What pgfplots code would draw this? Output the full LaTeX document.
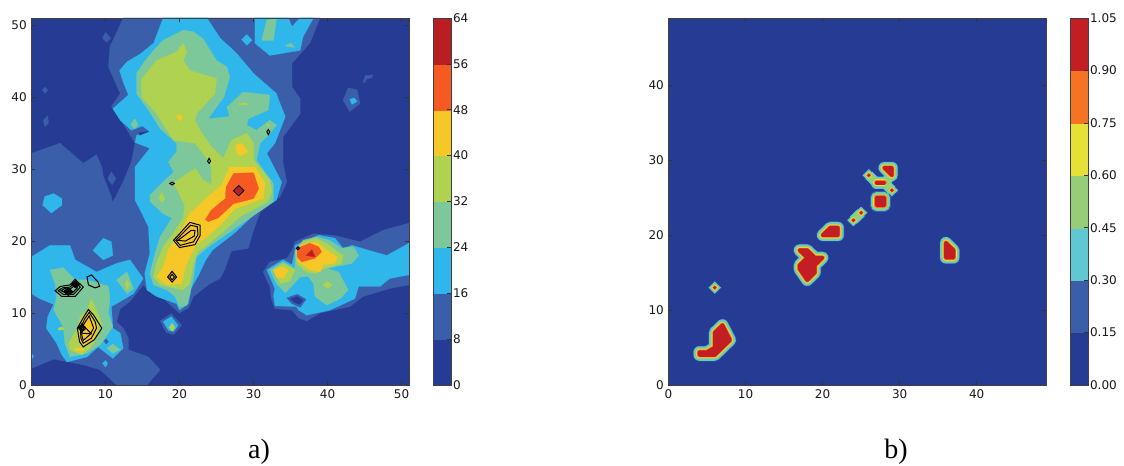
\documentclass[border=0pt]{standalone}
\usepackage{fontspec}
\setmainfont{DejaVu Sans}
\newfontfamily\capfont{Liberation Serif}
\usepackage{pgfplots}
\pgfplotsset{compat=1.18}
\definecolor{a0}{RGB}{38,60,148}
\definecolor{a1}{RGB}{58,94,170}
\definecolor{a2}{RGB}{47,182,235}
\definecolor{a3}{RGB}{125,200,155}
\definecolor{a4}{RGB}{175,210,80}
\definecolor{a5}{RGB}{245,200,40}
\definecolor{a6}{RGB}{245,90,35}
\definecolor{a7}{RGB}{185,30,35}
\definecolor{b2}{RGB}{95,200,210}
\definecolor{b3}{RGB}{150,205,120}
\definecolor{b4}{RGB}{230,225,55}
\definecolor{b5}{RGB}{245,115,35}
\definecolor{b6}{RGB}{195,30,35}
\pgfplotsset{
  base/.style={scale only axis,axis on top,tick align=inside,
    major tick length=3pt,
    /pgf/number format/assume math mode=true,
    tick label style={font=\fontsize{9}{10}\selectfont,text=black!90},
    axis line style={black!75,line width=0.6pt},
    every tick/.style={black!80,line width=0.5pt},
    anchor=south west},
  cb/.style={base,xtick=\empty,ytick pos=right,yticklabel pos=right,xmin=0,xmax=1,
    width=13.5pt,height=275.25pt,
    yticklabel style={xshift=-2pt}},
  f/.style={fill=#1,draw=#1,line width=0.2pt,forget plot},
  k/.style={draw=black,line width=0.75pt,fill=none,forget plot},
  r1/.style={draw=a1,line join=round,line width=9.4pt,fill=a1,forget plot},
  r2/.style={draw=b2,line join=round,line width=8.6pt,fill=b2,forget plot},
  r3/.style={draw=b3,line join=round,line width=6.6pt,fill=b3,forget plot},
  r4/.style={draw=b4,line join=round,line width=4.8pt,fill=b4,forget plot},
  r5/.style={draw=b5,line join=round,line width=3.6pt,fill=b5,forget plot},
  r6/.style={draw=b6,line join=round,line width=2.6pt,fill=b6,forget plot},
  d1/.style={draw=a1,line join=miter,line width=6.2pt,fill=a1,forget plot},
  d2/.style={draw=b2,line join=miter,line width=5.6pt,fill=b2,forget plot},
  d3/.style={draw=b3,line join=miter,line width=4.2pt,fill=b3,forget plot},
  d4/.style={draw=b4,line join=miter,line width=2.8pt,fill=b4,forget plot},
  d5/.style={draw=b5,line join=miter,line width=1.9pt,fill=b5,forget plot},
  d6/.style={draw=b6,line join=miter,line width=1.1pt,fill=b6,forget plot},
}
% panel b: grid cells holding the value 1
\newcommand\shapeA{(4,4)(6,4)(8,6)(7,8)(6,7)(6,5)(5,4.4)(4,4.4)}
\newcommand\shapeB{(17,18)(18,18)(19,17)(20,17)(19,16)(19,15)(18,14)(17,15.5)(17,16)(18,17)}
\newcommand\shapeC{(20,20)(21,21)(22,21)(22,20)}
\newcommand\shapeD{(28,29)(29,29)(29,28)}
\newcommand\shapeE{(27,27)(28,27)(28,27.05)(27,27.05)}
\newcommand\shapeF{(27,25)(28,25)(28,24)(27,24)}
\newcommand\shapeG{(36,19)(37,18)(37,17)(36,17)}
\newcommand\dotA{(6,13.1)(6.1,13)(6,12.9)(5.9,13)}
\newcommand\dotB{(26,28.1)(26.1,28)(26,27.9)(25.9,28)}
\newcommand\dotC{(29,26.1)(29.1,26)(29,25.9)(28.9,26)}
\newcommand\dotD{(24,22.1)(24.1,22)(24,21.9)(23.9,22)}
\newcommand\dotE{(25,23.1)(25.1,23)(25,22.9)(24.9,23)}
\begin{document}
\begin{tikzpicture}[x=1pt,y=1pt]
\path[use as bounding box] (0,0) rectangle (843,349.5);
%% ---------- panel a
\begin{axis}[base,at={(23.6pt,60.75pt)},width=283.1pt,height=275.25pt,
  xmin=0,xmax=51,ymin=0,ymax=51,xtick={0,10,...,50},ytick={0,10,...,50},
  axis background/.style={fill=a0}]
% level 8
\addplot[f=a1] coordinates {(0,32.2)(3.85,33.6)(7,30.8)(8.8,32)(9.5,30.3)(9.7,29)(10.8,26.2)(10.9,25.4)(11.3,26)(12.5,28.5)(13.5,31)(14,33.6)(12.4,36.3)(10.8,38.7)(12,40.5)(10.4,44.2)(10.6,47)(12.4,51)(39,51)(37.6,47.5)(35.2,44.7)(35.2,41.4)(36.3,39.8)(36.3,37.7)(34,34.5)(34,30.8)(34.5,28.2)(33.6,26.2)(30.9,24)(30,21.5)(29.3,19)(27,18.6)(26.1,16)(25.5,14.8)(24,14)(21.9,12.3)(21.2,10.7)(20,10)(19.2,10.7)(17.4,12.5)(15.8,13.2)(15.1,13.9)(13.3,11.6)(12,10.6)(11.5,8.8)(12.4,7.9)(13.1,6.5)(13.1,4.9)(15.8,3.9)(17.4,2.1)(15.6,0)(11.5,0)(9.3,2.1)(7,2.8)(3,3.6)(0,2.3)} -- cycle;
\addplot[f=a1] coordinates {(35.2,18.7)(35.6,19.9)(38.1,21)(40.8,20.8)(44.4,19.9)(47.5,21.5)(51,22.5)(51,13.9)(48.4,13.4)(44.8,12.3)(43,10.9)(39,10)(37.2,8.9)(36.1,9.3)(35.2,10.4)(32.9,10.6)(32.4,12)(32.2,13.7)(31.3,15.7)(32.2,17.1)(34.5,17.6)} -- cycle;
\addplot[f=a1] coordinates {(10,49)(10.7,48.2)(10.2,47.6)(9.6,48.2)} -- cycle;
\addplot[f=a1] coordinates {(1.8,41.4)(2.2,41)(1.8,40.5)(1.5,41)} -- cycle;
\addplot[f=a1] coordinates {(2.2,37.4)(2.3,36.4)(1.8,35.9)(1.6,36.8)} -- cycle;
\addplot[f=a1] coordinates {(10.8,29.6)(11.4,28.7)(10.9,27.8)(10.3,28.7)} -- cycle;
\addplot[f=a1] coordinates {(42.1,39.6)(42.8,41.3)(44,41)(44.4,39.1)(43,38)} -- cycle;
\addplot[f=a1] coordinates {(44.8,42.1)(45.1,43)(46.1,43.1)(46,42.7)(45.3,42.5)(45,42)} -- cycle;
\addplot[f=a1] coordinates {(17.4,8.9)(18.9,9.9)(20.3,8.3)(19.2,7)(18.2,7.3)} -- cycle;
% level 16
\addplot[f=a2] coordinates {(17.8,51)(16.5,47.5)(14.7,46)(12.9,44.9)(11.9,43.7)(12.4,42.1)(13.1,40.3)(11,38.4)(12,36.8)(13.5,35.4)(15,36)(16,35.2)(14.2,34.7)(14,33.7)(16,32.9)(14,30.3)(14,25.7)(14.7,24.3)(15.8,22)(16,18.3)(15.3,15.5)(15.6,13.2)(16.9,12.3)(19.6,11.3)(20,10.4)(21.2,11.3)(21.6,13.5)(22.6,15.3)(23.5,17.3)(24.5,18.8)(27.3,21)(30,23.6)(33.1,25.7)(33.8,28.2)(31.8,32.2)(32.9,33.6)(34.3,37.3)(33.4,39.6)(33.1,40.5)(30,43.3)(27.7,46.1)(25.5,48.2)(23.7,51)} -- cycle;
\addplot[f=a0] coordinates {(14.5,35.1)(15.8,35.2)(14.6,34.7)} -- cycle;
\addplot[f=a2] coordinates {(0,17.8)(2.5,19.4)(5.2,19.4)(5.9,17.4)(8.8,15.7)(11.5,16.9)(13.3,17.4)(15.1,14.8)(13.8,12.7)(12,11.6)(10.8,10.9)(11,7.9)(12,7.2)(12.4,5.1)(11,3.7)(9,5.3)(7.5,3.9)(4.8,3.2)(4.1,4.2)(3.4,5.8)(2,7.9)(2.2,9.5)(3,11.2)(1.1,12)(0,12.7)} -- cycle;
\addplot[f=a2] coordinates {(31.8,16)(34,17.4)(35.2,16.7)(35.6,18.7)(35.6,19.4)(38.8,20.8)(41,20.4)(42.1,19)(43.3,19.4)(48,18)(51,19.7)(51,15.3)(48.4,14.8)(47.1,13.7)(44.2,13.7)(43.7,12)(40.3,10.4)(37.2,9.7)(36.1,10.4)(35.8,10.9)(32.9,11)(32.7,12.5)(32.9,13.4)} -- cycle;
\addplot[f=a1] coordinates {(34.5,12.1)(35.9,12.6)(37.1,11.9)(36.3,10.8)(35.2,11.3)} -- cycle;
\addplot[f=a0] coordinates {(35,12)(35.9,12.3)(36.7,11.8)(36.2,11.2)(35.5,11.5)} -- cycle;
\addplot[f=a2] coordinates {(30.2,51)(30.2,47.5)(32.2,45.8)(36.3,46.5)(36.7,48.4)(38.1,51)(36.3,51)(35.2,49.8)(34.7,51)} -- cycle;
\addplot[f=a2] coordinates {(28.4,48)(29.1,48.7)(29.8,47.9)(29.1,47.2)} -- cycle;
\addplot[f=a2] coordinates {(1.5,25)(1.8,26.2)(3,26.6)(4.1,25.9)(4.1,25)(2.7,23.9)} -- cycle;
\addplot[f=a2] coordinates {(8.3,18.7)(9.7,20.4)(10.8,19.9)(11,18)(9.7,17.4)} -- cycle;
\addplot[f=a2] coordinates {(17.8,8.8)(18.9,9.5)(19.8,8.3)(19.2,7.4)(18.5,7.6)} -- cycle;
\addplot[f=a2] coordinates {(9.6,3)(10,3.4)(10.3,3)(10,2.5)} -- cycle;
\addplot[f=a2] coordinates {(0,4.4)(0.3,4)(0,3.5)} -- cycle;
\addplot[f=a2] coordinates {(43,39.7)(43.6,39.9)(44,39.4)(43.3,39)} -- cycle;
\addplot[f=a1] coordinates {(9.8,6.1)(10.1,6.4)(10.4,6)(10.1,5.7)} -- cycle;
% level 24
\addplot[f=a3] coordinates {(20.5,49.3)(21.9,49.1)(23.2,48.1)(25,45.1)(26.4,44.2)(26.8,42.8)(26,40)(24.9,38.5)(23.9,37)(26.8,37.3)(26.4,38.6)(28.6,40.7)(32.2,40.3)(32,38.2)(29.3,37)(29.1,36.1)(30.4,35.4)(32.2,36.8)(33.1,36.1)(32,34.7)(30.9,33.6)(30.4,31.2)(32.7,28)(32.7,25.5)(29.1,22.9)(25.9,20.6)(23.9,19.2)(22.3,17.8)(21.9,15)(21.4,12.7)(21,11.1)(20,10.8)(19.4,12.3)(18.3,13.2)(16.5,13.9)(16,15.5)(16.7,18.3)(17.4,20.6)(19,23.2)(17.8,23.8)(16,25.5)(16,26.4)(19.2,29.6)(18.5,31)(19.6,32.4)(19.6,33.6)(17.4,35.6)(15.8,38.2)(14.2,40.5)(14.2,43.3)(15.1,44.7)(16.5,46.5)(17.8,47.9)} -- cycle;
\addplot[f=a3] coordinates {(2.5,16)(4.3,16.3)(5.9,14.6)(7.5,14.6)(9.3,14.1)(10.4,13.7)(10.6,12)(10.4,10)(11,8.1)(9.3,5.6)(7.5,4.4)(5.2,3.9)(4.5,5.8)(4.3,8.1)(3,10.4)(3.4,12.3)(3.2,14.1)} -- cycle;
\addplot[f=a3] coordinates {(11.5,14.6)(12.9,15.7)(13.8,13.4)(12.9,12.7)} -- cycle;
\addplot[f=a3] coordinates {(10.2,5.1)(11,5.7)(12,4.9)(11,4.4)} -- cycle;
\addplot[f=a3] coordinates {(31.1,47.9)(31.8,50.7)(33.1,50.9)(32.7,47.9)} -- cycle;
\addplot[f=a3] coordinates {(34.3,47.1)(35,47.5)(35.6,46.9)} -- cycle;
\addplot[f=a3] coordinates {(13.4,36.2)(14,37)(14.4,36.1)(13.9,35.6)} -- cycle;
\addplot[f=a3] coordinates {(32.2,16)(34,17.1)(35.6,16.2)(35.7,18.8)(36.7,20.1)(38.5,20.6)(40.3,20.1)(41.9,19)(43.5,19.2)(44.2,18)(43.3,16.9)(39.9,16.2)(41.5,15.7)(42.8,13.2)(41.7,12)(39.9,11.1)(38.3,12.3)(38.1,14.1)(37.4,15.1)(36.3,15)(34.3,12.8)(33.1,14.1)} -- cycle;
% level 32
\addplot[f=a4] coordinates {(20.5,47.5)(21,46.3)(20.5,45.1)(21.4,43.7)(25,42.6)(24.8,40.5)(22.3,37.7)(22.1,36.8)(22.8,35.4)(24.3,33.1)(25.9,31.5)(27,34)(29.1,35)(30,33.6)(30,31.3)(32.2,28.5)(32.5,26.9)(32,25.5)(28.2,23.4)(25.9,21.3)(23.7,19.4)(22.5,18.5)(21.9,16.9)(21.4,14.1)(20.5,13.2)(17.4,13.9)(16.5,15)(16.9,16.9)(17.8,19.2)(19.2,21.1)(20.5,23.2)(20.7,25)(19.2,28.1)(22.1,30.1)(23.2,28.5)(24.3,27.8)(24.3,30.3)(23.7,31.5)(22.1,33.6)(19.2,34)(18.3,35.4)(16.9,37.7)(14.9,40)(14.8,42.4)(16.9,45.1)(19.6,46.3)} -- cycle;
\addplot[f=a4] coordinates {(17.2,26)(17.6,26.8)(18,25.8)(17.6,25.4)} -- cycle;
\addplot[f=a4] coordinates {(8.1,12)(9.5,8.6)(9.5,7.9)(8.1,5.3)(6.8,4.2)(5.2,4.9)(5,5.8)(6.1,7.6)(6.6,9.5)(7.5,10.4)} -- cycle;
\addplot[f=a4] coordinates {(35.7,18.5)(36.7,19.9)(38.5,20.4)(40.3,19.4)(41.1,18.7)(42.1,18)(41.9,16.9)(40.3,16.4)(39,16)(38.5,15.5)(37.2,15.7)(35.8,16.9)} -- cycle;
\addplot[f=a4] coordinates {(32.7,16)(34,16.9)(35.6,16)(34.9,14.4)(33.6,14.1)} -- cycle;
\addplot[f=a4] coordinates {(39.4,13.9)(40,14.4)(40.6,13.9)(40,13.4)} -- cycle;
\addplot[f=a4] coordinates {(12.9,14.6)(13.3,14)(12.9,13.2)(12.7,14)} -- cycle;
\addplot[f=a4] coordinates {(18.6,8)(19,8.6)(19.4,8)(19,7.5)} -- cycle;
\addplot[f=a4] coordinates {(3.6,7.9)(4.2,8.1)(4.4,7.7)(3.7,7.6)} -- cycle;
\addplot[f=a4] coordinates {(28,39.1)(29,39.2)(29.2,38.9)(28.1,38.9)} -- cycle;
\addplot[f=a4] coordinates {(31.7,36.3)(32.2,36.1)(32,35.8)} -- cycle;
% level 40
\addplot[f=a5] coordinates {(19.6,37.3)(20,37.6)(20.5,37.1)(20,36.7)} -- cycle;
\addplot[f=a5] coordinates {(27.6,33.3)(28.4,33.6)(29.3,32.4)(28.2,31.8)(27.7,32.4)} -- cycle;
\addplot[f=a5] coordinates {(21.9,24.3)(23.9,26.2)(25.7,27.8)(26.8,30.3)(30.2,30.3)(31.6,28)(31.3,25.9)(27.5,24.5)(25.5,22.2)(23.7,20.6)(22.3,19.5)(21.2,17.4)(20.7,16)(20.3,14.1)(18.3,13.9)(16.9,15)(17.8,16.4)(18.5,18.8)(19.6,20.6)(20.5,22)(21.4,23.9)} -- cycle;
\addplot[f=a5] coordinates {(7.9,10.4)(9,8.1)(8.4,6.2)(6.8,5.3)(6.3,7.2)(6.8,8.6)(7,9.5)} -- cycle;
\addplot[f=a5] coordinates {(5.9,5.1)(7,5.1)(7,4.8)(5.9,4.8)} -- cycle;
\addplot[f=a5] coordinates {(35.9,18)(36.3,19.4)(38.5,19.9)(39.9,18.7)(41.3,17.8)(41,16.9)(39.4,16.7)(39,15.7)(37.6,16)(36.1,17.1)} -- cycle;
\addplot[f=a5] coordinates {(32.7,16)(34,16.4)(34.7,16)(34,14.8)(33.1,15)} -- cycle;
% level 48
\addplot[f=a6] coordinates {(23.5,23)(24.3,24.3)(26.2,25.9)(26.3,27.5)(27.3,29.4)(30,29.5)(30.7,27.3)(30,25.9)(27.3,25.2)(25.2,23.2)(23.9,22.7)} -- cycle;
\addplot[f=a6] coordinates {(35.9,19)(37.6,19.7)(38.8,19.2)(39.2,18.5)(38.3,17.6)(36.5,17.1)(35.9,17.8)} -- cycle;
% level 56
\addplot[f=a7] coordinates {(37.1,18)(37.9,18.8)(38.3,17.8)} -- cycle;
\addplot[f=a7] coordinates {(27.5,27)(28,27.5)(28.5,27)(28,26.5)} -- cycle;
% black contours
\addplot[k] coordinates {(19.2,20.1)(21.4,22.6)(22.8,22.2)(22.8,20.8)(22.1,19.5)(20,19.1)} -- cycle;
\addplot[k] coordinates {(19.5,20.1)(21.5,22.2)(22.4,22)(22.5,20.9)(21.9,19.9)(20.1,19.4)} -- cycle;
\addplot[k] coordinates {(19.8,20.1)(21.6,21.5)(22.1,21.5)(22,20.7)(20.8,20)} -- cycle;
\addplot[k] coordinates {(18.4,15)(19,15.8)(19.6,15)(19,14.3)} -- cycle;
\addplot[k] coordinates {(18.7,15)(19,15.4)(19.3,15)(19,14.6)} -- cycle;
\addplot[k] coordinates {(27.3,27)(28,27.7)(28.7,27)(28,26.3)} -- cycle;
\addplot[k] coordinates {(3.2,13.1)(3.9,13.7)(5.2,13.9)(5.9,14.7)(7,13.6)(5.9,12.3)(4.1,12.3)} -- cycle;
\addplot[k] coordinates {(3.6,13.1)(4.2,13.5)(5.2,13.6)(5.9,14.3)(6.6,13.6)(5.7,12.6)(4.3,12.6)} -- cycle;
\addplot[k] coordinates {(4,13.1)(4.5,13.4)(5.2,13.3)(5.9,13.9)(6.2,13.5)(5.5,12.8)(4.6,12.8)} -- cycle;
\addplot[fill=black,draw=black,forget plot] coordinates {(4.3,13)(5,13.5)(5.6,13)(5,12.4)} -- cycle;
\addplot[fill=black,draw=black,forget plot] coordinates {(5.4,14)(6,14.6)(6.5,13.9)(5.9,13.5)} -- cycle;
\addplot[k] coordinates {(7.5,15)(8.1,15.3)(9,14.3)(9.2,13.7)(8.6,13.5)(7.7,13.9)} -- cycle;
\addplot[k] coordinates {(7.7,10.5)(8.4,9.7)(9.5,7.9)(8.5,6.3)(7,5.3)(6.5,6)(6.2,7.9)(7.2,9.7)} -- cycle;
\addplot[k] coordinates {(7.8,10.1)(8.6,8.8)(8.8,7.9)(8.1,6.5)(7,5.8)(6.7,6.4)(6.6,7.9)(7.2,9.2)} -- cycle;
\addplot[k] coordinates {(7.8,9.6)(8.4,7.9)(7.9,7)(7,6.2)(6.8,6.9)(6.8,8)} -- cycle;
\addplot[k] coordinates {(6.8,8.5)(8.1,7.1)(6.8,7.2)} -- cycle;
\addplot[k] coordinates {(6.3,8)(6.8,8.4)(7.3,7.8)(6.8,7.4)} -- cycle;
\addplot[k] coordinates {(6.5,8)(6.8,8.2)(7.1,7.8)(6.8,7.6)} -- cycle;
\addplot[k] coordinates {(18.7,28)(19,28.2)(19.3,28)(19,27.8)} -- cycle;
\addplot[k] coordinates {(23.8,31.1)(24,31.5)(24.2,31.1)(24,30.8)} -- cycle;
\addplot[k] coordinates {(31.8,35.2)(32,35.5)(32.2,35.2)(32,34.8)} -- cycle;
\addplot[k] coordinates {(35.8,19)(36,19.2)(36.2,19)(36,18.8)} -- cycle;
\end{axis}
% colourbar a
\begin{axis}[cb,at={(324.75pt,60.75pt)},ymin=0,ymax=64,ytick={0,8,...,64}]
\addplot[f=a0] coordinates {(0,0)(1,0)(1,8)(0,8)} -- cycle;
\addplot[f=a1] coordinates {(0,8)(1,8)(1,16)(0,16)} -- cycle;
\addplot[f=a2] coordinates {(0,16)(1,16)(1,24)(0,24)} -- cycle;
\addplot[f=a3] coordinates {(0,24)(1,24)(1,32)(0,32)} -- cycle;
\addplot[f=a4] coordinates {(0,32)(1,32)(1,40)(0,40)} -- cycle;
\addplot[f=a5] coordinates {(0,40)(1,40)(1,48)(0,48)} -- cycle;
\addplot[f=a6] coordinates {(0,48)(1,48)(1,56)(0,56)} -- cycle;
\addplot[f=a7] coordinates {(0,56)(1,56)(1,64)(0,64)} -- cycle;
\end{axis}
%% ---------- panel b
\begin{axis}[base,at={(501.4pt,60.75pt)},width=283.1pt,height=275.25pt,
  xmin=0,xmax=49,ymin=0,ymax=49,xtick={0,10,...,40},ytick={0,10,...,40},
  axis background/.style={fill=a0}]
\addplot[r1] coordinates {\shapeA} -- cycle; \addplot[r1] coordinates {\shapeB} -- cycle; \addplot[r1] coordinates {\shapeC} -- cycle; \addplot[r1] coordinates {\shapeD} -- cycle; \addplot[r1] coordinates {\shapeE} -- cycle; \addplot[r1] coordinates {\shapeF} -- cycle; \addplot[r1] coordinates {\shapeG} -- cycle;
\addplot[d1] coordinates {\dotA} -- cycle; \addplot[d1] coordinates {\dotB} -- cycle; \addplot[d1] coordinates {\dotC} -- cycle; \addplot[d1] coordinates {\dotD} -- cycle; \addplot[d1] coordinates {\dotE} -- cycle;
\addplot[r2] coordinates {\shapeA} -- cycle; \addplot[r2] coordinates {\shapeB} -- cycle; \addplot[r2] coordinates {\shapeC} -- cycle; \addplot[r2] coordinates {\shapeD} -- cycle; \addplot[r2] coordinates {\shapeE} -- cycle; \addplot[r2] coordinates {\shapeF} -- cycle; \addplot[r2] coordinates {\shapeG} -- cycle;
\addplot[d2] coordinates {\dotA} -- cycle; \addplot[d2] coordinates {\dotB} -- cycle; \addplot[d2] coordinates {\dotC} -- cycle; \addplot[d2] coordinates {\dotD} -- cycle; \addplot[d2] coordinates {\dotE} -- cycle;
% saddle bridges between diagonal cells
\addplot[draw=b2,line width=7.5pt,forget plot] coordinates {(24,22)(25,23)};
\addplot[draw=b2,line width=7.5pt,forget plot] coordinates {(26,28)(27,27)};
\addplot[draw=b2,line width=7.5pt,forget plot] coordinates {(28,27)(29,26)};
\addplot[draw=b2,line width=7.5pt,forget plot] coordinates {(28,27)(29,28)};
\addplot[draw=b3,line width=5.3pt,forget plot] coordinates {(24,22)(25,23)};
\addplot[draw=b3,line width=5.3pt,forget plot] coordinates {(26,28)(27,27)};
\addplot[draw=b3,line width=5.3pt,forget plot] coordinates {(28,27)(29,26)};
\addplot[draw=b3,line width=5.3pt,forget plot] coordinates {(28,27)(29,28)};
\addplot[r3] coordinates {\shapeA} -- cycle; \addplot[r3] coordinates {\shapeB} -- cycle; \addplot[r3] coordinates {\shapeC} -- cycle; \addplot[r3] coordinates {\shapeD} -- cycle; \addplot[r3] coordinates {\shapeE} -- cycle; \addplot[r3] coordinates {\shapeF} -- cycle; \addplot[r3] coordinates {\shapeG} -- cycle;
\addplot[d3] coordinates {\dotA} -- cycle; \addplot[d3] coordinates {\dotB} -- cycle; \addplot[d3] coordinates {\dotC} -- cycle; \addplot[d3] coordinates {\dotD} -- cycle; \addplot[d3] coordinates {\dotE} -- cycle;
\addplot[r4] coordinates {\shapeA} -- cycle; \addplot[r4] coordinates {\shapeB} -- cycle; \addplot[r4] coordinates {\shapeC} -- cycle; \addplot[r4] coordinates {\shapeD} -- cycle; \addplot[r4] coordinates {\shapeE} -- cycle; \addplot[r4] coordinates {\shapeF} -- cycle; \addplot[r4] coordinates {\shapeG} -- cycle;
\addplot[d4] coordinates {\dotA} -- cycle; \addplot[d4] coordinates {\dotB} -- cycle; \addplot[d4] coordinates {\dotC} -- cycle; \addplot[d4] coordinates {\dotD} -- cycle; \addplot[d4] coordinates {\dotE} -- cycle;
\addplot[r5] coordinates {\shapeA} -- cycle; \addplot[r5] coordinates {\shapeB} -- cycle; \addplot[r5] coordinates {\shapeC} -- cycle; \addplot[r5] coordinates {\shapeD} -- cycle; \addplot[r5] coordinates {\shapeE} -- cycle; \addplot[r5] coordinates {\shapeF} -- cycle; \addplot[r5] coordinates {\shapeG} -- cycle;
\addplot[d5] coordinates {\dotA} -- cycle; \addplot[d5] coordinates {\dotB} -- cycle; \addplot[d5] coordinates {\dotC} -- cycle; \addplot[d5] coordinates {\dotD} -- cycle; \addplot[d5] coordinates {\dotE} -- cycle;
\addplot[r6] coordinates {\shapeA} -- cycle; \addplot[r6] coordinates {\shapeB} -- cycle; \addplot[r6] coordinates {\shapeC} -- cycle; \addplot[r6] coordinates {\shapeD} -- cycle; \addplot[r6] coordinates {\shapeE} -- cycle; \addplot[r6] coordinates {\shapeF} -- cycle; \addplot[r6] coordinates {\shapeG} -- cycle;
\addplot[d6] coordinates {\dotA} -- cycle; \addplot[d6] coordinates {\dotB} -- cycle; \addplot[d6] coordinates {\dotC} -- cycle; \addplot[d6] coordinates {\dotD} -- cycle; \addplot[d6] coordinates {\dotE} -- cycle;
\end{axis}
% colourbar b
\begin{axis}[cb,at={(802.5pt,60.75pt)},ymin=0,ymax=1.05,
  ytick={0,0.15,0.30,0.45,0.60,0.75,0.90,1.05},
  yticklabel style={/pgf/number format/fixed,/pgf/number format/fixed zerofill,/pgf/number format/precision=2}]
\addplot[f=a0] coordinates {(0,0)(1,0)(1,0.15)(0,0.15)} -- cycle;
\addplot[f=a1] coordinates {(0,0.15)(1,0.15)(1,0.30)(0,0.30)} -- cycle;
\addplot[f=b2] coordinates {(0,0.30)(1,0.30)(1,0.45)(0,0.45)} -- cycle;
\addplot[f=b3] coordinates {(0,0.45)(1,0.45)(1,0.60)(0,0.60)} -- cycle;
\addplot[f=b4] coordinates {(0,0.60)(1,0.60)(1,0.75)(0,0.75)} -- cycle;
\addplot[f=b5] coordinates {(0,0.75)(1,0.75)(1,0.90)(0,0.90)} -- cycle;
\addplot[f=b6] coordinates {(0,0.90)(1,0.90)(1,1.05)(0,1.05)} -- cycle;
\end{axis}
\node[font=\capfont\fontsize{21}{24}\selectfont,text=black,anchor=base] at (194.25,5.25) {a)};
\node[font=\capfont\fontsize{21}{24}\selectfont,text=black,anchor=base] at (672,5.25) {b)};
\end{tikzpicture}
\end{document}
